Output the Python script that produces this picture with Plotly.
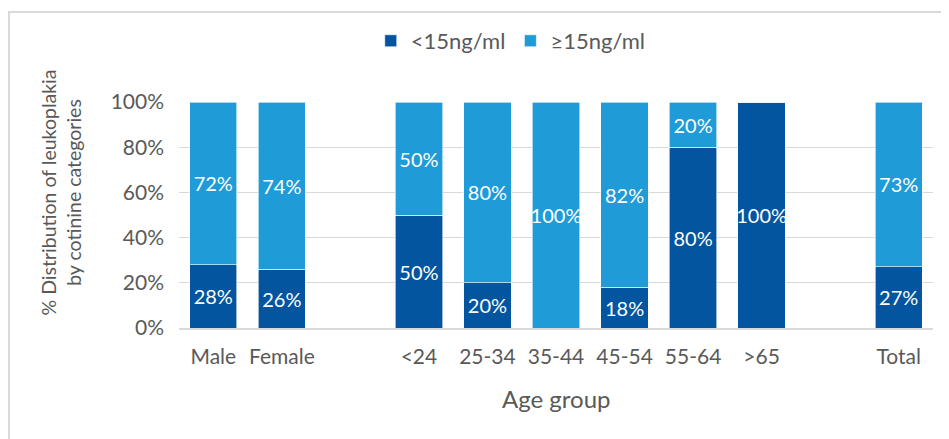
import plotly.graph_objects as go

categories = ["Male", "Female", "", "<24", "25-34", "35-44", "45-54", "55-64", ">65", "", "Total"]
low_values = [28, 26, None, 50, 20, 0, 18, 80, 100, None, 27]
high_values = [72, 74, None, 50, 80, 100, 82, 20, 0, None, 73]
series_names = ["<15ng/ml", "≥15ng/ml"]
y_ticks = [0, 20, 40, 60, 80, 100]
y_tick_labels = ["0%", "20%", "40%", "60%", "80%", "100%"]

DARK = "#02559E"
LIGHT = "#1F9BD7"
GRAY = "#595959"
FONT = "Lato"

x_pos = list(range(len(categories)))


def labels(vals):
    return ["" if (v is None or v == 0) else f"{v}%" for v in vals]


fig = go.Figure()
for name, vals, col in [(series_names[0], low_values, DARK), (series_names[1], high_values, LIGHT)]:
    fig.add_trace(go.Bar(
        x=x_pos, y=vals, name=name,
        marker=dict(color=col, line=dict(color="white", width=0.6)),
        text=labels(vals), textposition="inside", insidetextanchor="middle",
        textangle=0,
        textfont=dict(color="white", size=20, family=FONT),
        cliponaxis=False,
    ))

fig.update_layout(
    barmode="stack", bargap=0.31,
    width=941, height=431,
    margin=dict(l=171, r=16, t=94, b=111),
    paper_bgcolor="white", plot_bgcolor="white",
    font=dict(family=FONT, color=GRAY, size=21),
    uniformtext=dict(minsize=20, mode="show"),
    legend=dict(orientation="h", x=0.44, xanchor="center", y=1.27, yanchor="middle",
                font=dict(size=22, color=GRAY), itemwidth=30, traceorder="normal"),
    showlegend=True,
)
fig.update_xaxes(
    tickmode="array", tickvals=x_pos, ticktext=categories, range=[-0.5, len(categories) - 0.5],
    showline=True, linecolor="#D9D9D9", linewidth=2, ticks="", showgrid=False,
    tickfont=dict(size=21, color=GRAY), ticklabelstandoff=9,
)
fig.update_yaxes(
    range=[0, 100], tickmode="array", tickvals=y_ticks, ticktext=y_tick_labels,
    showgrid=True, gridcolor="#D9D9D9", gridwidth=1, zeroline=False, showline=False,
    tickfont=dict(size=21, color=GRAY), ticklabelstandoff=14,
)
fig.add_annotation(text="Age group", xref="paper", yref="paper", x=0.5, y=-0.31,
                   xanchor="center", yanchor="middle", showarrow=False,
                   font=dict(size=24, color=GRAY, family=FONT))
fig.add_annotation(text="% Distribution of leukoplakia<br>by cotinine categories",
                   xref="paper", yref="paper", x=-0.1565, y=0.6, textangle=-90,
                   xanchor="center", yanchor="middle", showarrow=False,
                   font=dict(size=19.5, color=GRAY, family=FONT))
fig.add_shape(type="rect", xref="paper", yref="paper", x0=-0.2255, y0=-0.7, x1=1.2, y1=1.398,
              line=dict(color="#D9D9D9", width=2), fillcolor="rgba(0,0,0,0)", layer="below")

fig.write_html("out.html")
